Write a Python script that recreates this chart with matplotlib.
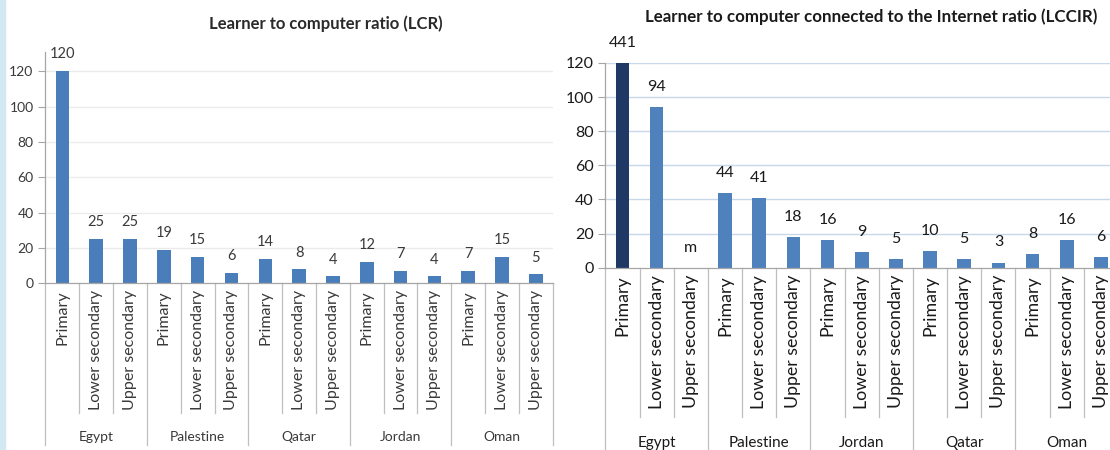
import numpy as np
import matplotlib
matplotlib.use("Agg")
import matplotlib.pyplot as plt

# data
levels = ["Primary", "Lower secondary", "Upper secondary"]
lcr_countries = ["Egypt", "Palestine", "Qatar", "Jordan", "Oman"]
lcr_values = [120, 25, 25, 19, 15, 6, 14, 8, 4, 12, 7, 4, 7, 15, 5]
lccir_countries = ["Egypt", "Palestine", "Jordan", "Qatar", "Oman"]
lccir_values = [441, 94, 0, 44, 41, 18, 16, 9, 5, 10, 5, 3, 8, 16, 6]
lccir_labels = ["441", "94", "m", "44", "41", "18", "16", "9", "5", "10", "5", "3", "8", "16", "6"]

font = ["Lato", "DejaVu Sans"]
plt.rcParams["font.family"] = font

fig = plt.figure(figsize=(11.1, 4.5), dpi=100)
fig.patch.set_facecolor("white")

# light blue strip on the far left
fig.patches.append(plt.Rectangle((0, 0), 5 / 1110, 1, transform=fig.transFigure,
                                 color="#d2e9f3", zorder=0))


def setup(ax, n, ymax, grid_col, fs_tick, txt_col):
    ax.set_xlim(-0.5, n - 0.5)
    ax.set_ylim(0, ymax)
    ax.set_yticks(np.arange(0, 121, 20))
    ax.set_xticks([])
    for s in ["top", "right"]:
        ax.spines[s].set_visible(False)
    for s in ["left", "bottom"]:
        ax.spines[s].set_color("#a6a6a6")
        ax.spines[s].set_linewidth(0.9)
    ax.tick_params(axis="y", length=5, color="#a6a6a6", labelsize=fs_tick, labelcolor=txt_col)
    for yv in range(20, 121, 20):
        ax.axhline(yv, color=grid_col, lw=1.0, zorder=0)
    return np.arange(n)


def separators(ax, n, tick_bot, grp_bot):
    tr = ax.get_xaxis_transform()
    for i in range(n + 1):
        xb = i - 0.5
        bottom = grp_bot if i % 3 == 0 else tick_bot
        ax.plot([xb, xb], [0, bottom], transform=tr, color="#bfbfbf", lw=0.9,
                clip_on=False)


# ---------- left chart: LCR ----------
ax1 = fig.add_axes([45.4 / 1110, 0.3704, 507.4 / 1110, 0.5147])
x1 = setup(ax1, len(lcr_values), 131, "#ebebeb", 10, "#3a3a3a")
ax1.bar(x1, lcr_values, width=0.4, color="#4a7ebb", zorder=2)
for xi, v in zip(x1, lcr_values):
    ax1.annotate(str(v), (xi, v), xytext=(0, 12), textcoords="offset points",
                 ha="center", va="center", fontsize=10.5, color="#3a3a3a")
tr1 = ax1.get_xaxis_transform()
for i, xi in enumerate(x1):
    ax1.text(xi, -0.029, levels[i % 3], transform=tr1, rotation=90, ha="center",
             va="top", fontsize=11.5, color="#3a3a3a")
for g, c in enumerate(lcr_countries):
    ax1.text(g * 3 + 1, -0.664, c, transform=tr1, ha="center", va="center",
             fontsize=10, color="#3a3a3a")
separators(ax1, len(lcr_values), -0.56, -0.698)
fig.text(326 / 1110, 1 - 24 / 450, "Learner to computer ratio (LCR)", ha="center",
         va="center", fontsize=12, fontweight="bold", color="#2a2a2a")

# ---------- right chart: LCCIR ----------
ax2 = fig.add_axes([605.4 / 1110, 0.4051, 512.6 / 1110, 0.4549])
x2 = setup(ax2, len(lccir_values), 120, "#c9d7ea", 11.5, "#1a1a1a")
colors = ["#1f3864"] + ["#4f81bd"] * (len(lccir_values) - 1)
ax2.bar(x2, lccir_values, width=0.4, color=colors, zorder=2)
for xi, v, lab in zip(x2, lccir_values, lccir_labels):
    ax2.annotate(lab, (xi, min(v, 120)), xytext=(0, 14.5), textcoords="offset points",
                 ha="center", va="center", fontsize=11.5, color="#1a1a1a",
                 annotation_clip=False)
tr2 = ax2.get_xaxis_transform()
for i, xi in enumerate(x2):
    ax2.text(xi, -0.036, levels[i % 3], transform=tr2, rotation=90, ha="center",
             va="top", fontsize=12.8, color="#1a1a1a")
for g, c in enumerate(lccir_countries):
    ax2.text(g * 3 + 1, -0.856, c, transform=tr2, ha="center", va="center",
             fontsize=11, color="#1a1a1a")
separators(ax2, len(lccir_values), -0.729, -1.0)
fig.text(871 / 1110, 1 - 17 / 450,
         "Learner to computer connected to the Internet ratio (LCCIR)", ha="center",
         va="center", fontsize=12.2, fontweight="bold", color="#1a1a1a")

fig.savefig("out.png", dpi=100)
